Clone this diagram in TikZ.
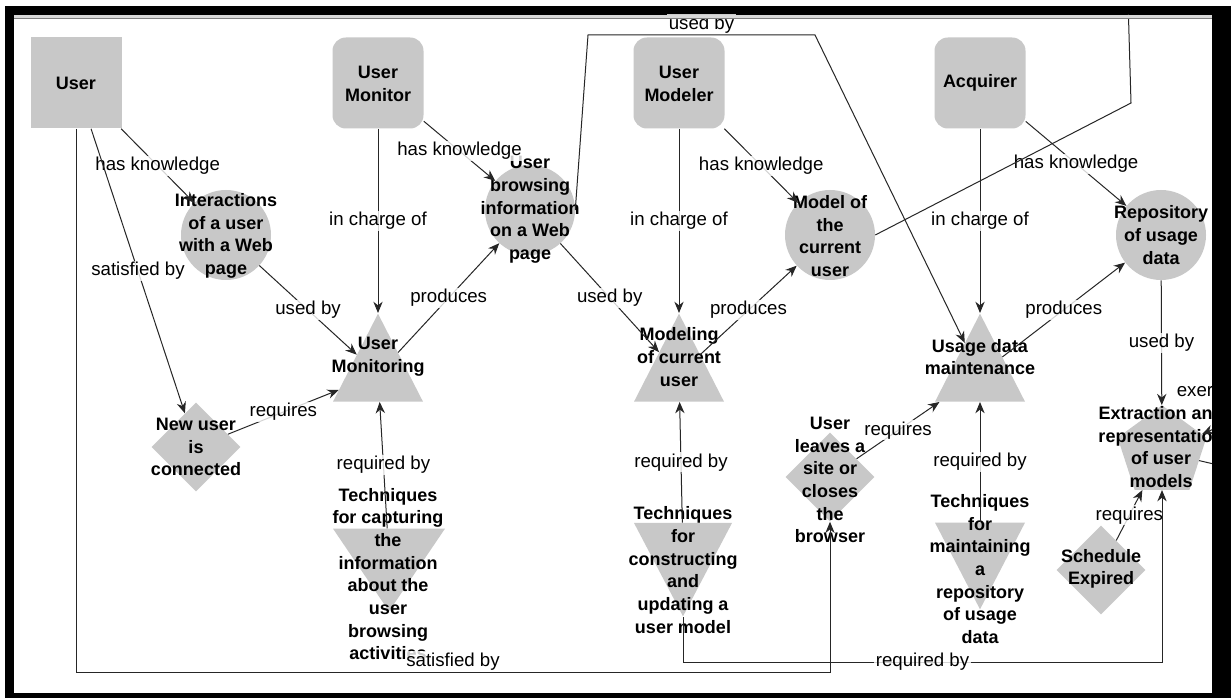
\documentclass[tikz,border=0pt]{standalone}
\usepackage{fontspec}
\setmainfont{Liberation Sans}
\usetikzlibrary{arrows.meta,shapes.geometric}
\definecolor{conceptgray}{RGB}{200,200,200}

\begin{document}
\begin{tikzpicture}[x=0.75pt,y=-0.75pt,>={Stealth[length=8.5pt,width=7pt]},
  actor/.style={fill=conceptgray,minimum width=68.25pt,minimum height=68.25pt,inner sep=0pt},
  ractor/.style={actor,rounded corners=10pt},
  concept/.style={circle,fill=conceptgray,minimum size=67.5pt,inner sep=0pt},
  task/.style={isosceles triangle,isosceles triangle stretches,shape border rotate=90,
    fill=conceptgray,minimum width=67.5pt,minimum height=66pt,inner sep=0pt,anchor=apex},
  technique/.style={task,shape border rotate=270},
  event/.style={diamond,aspect=1,fill=conceptgray,minimum width=66.75pt,minimum height=66.75pt,inner sep=0pt},
  goal/.style={regular polygon,regular polygon sides=5,fill=conceptgray,minimum size=70pt,inner sep=0pt},
  txt/.style={font=\bfseries\fontsize{13.5}{17}\selectfont,align=center,inner sep=0pt},
  elab/.style={font=\fontsize{14}{16}\selectfont,fill=white,fill opacity=0.8,text opacity=1,inner sep=1pt},
  link/.style={draw=black!85,line width=0.75pt,->},
  wire/.style={draw=black!85,line width=0.75pt}]

\useasboundingbox (0,0) rectangle (1231,698);
\fill[white] (0,0) rectangle (1231,698);
\fill[black] (5,6) rectangle (1231,698);
\fill[white] (14,15) rectangle (1212,693);

\begin{scope}
\clip (14,15) rectangle (1212,693);

% actors
\node[actor] (user) at (76,83) {};
\node[ractor] (umonitor) at (378,83) {};
\node[ractor] (umodeler) at (679,83) {};
\node[ractor] (acquirer) at (980,83) {};

% knowledge
\node[concept] (inter) at (226,235) {};
\node[concept] (browse) at (530,210) {};
\node[concept] (model) at (830,235) {};
\node[concept] (repo) at (1161,235) {};

% tasks
\node[task] (monitoring) at (378,313) {};
\node[task] (modeling) at (679,313) {};
\node[task] (usage) at (980,313) {};

% techniques
\node[technique,minimum width=84pt,minimum height=62pt] (captech) at (389,612) {};
\node[technique,minimum width=73.5pt,minimum height=70pt] (constech) at (683,617) {};
\node[technique,minimum width=67.5pt,minimum height=65pt] (maintech) at (980,610) {};

% events
\node[event] (newuser) at (196,447) {};
\node[event] (leaves) at (830,477) {};
\node[event] (schedule) at (1101,570) {};

% goal
\node[goal] (extr) at (1162,452) {};

% texts
\node[txt] (user-t) at (76,83) {User};
\node[txt] (umonitor-t) at (378,84) {User\\Monitor};
\node[txt] (umodeler-t) at (679,84) {User\\Modeler};
\node[txt] (acquirer-t) at (980,83) {Acquirer};
\node[txt] (inter-t) at (226,236) {Interactions\\of a user\\with a Web\\page};
\node[txt] (browse-t) at (530,210) {User\\browsing\\information\\on a Web\\page};
\node[txt] (model-t) at (830,236) {Model of\\the\\current\\user};
\node[txt] (repo-t) at (1161,235) {Repository\\of usage\\data};
\node[txt] (monitoring-t) at (378,357) {User\\Monitoring};
\node[txt] (modeling-t) at (679,357) {Modeling\\of current\\user};
\node[txt] (usage-t) at (980,357) {Usage data\\maintenance};
\node[txt] (captech-t) at (388,574) {Techniques\\for capturing\\the\\information\\about the\\user\\browsing\\activities};
\node[txt] (constech-t) at (683,570) {Techniques\\for\\constructing\\and\\updating a\\user model};
\node[txt] (maintech-t) at (980,569) {Techniques\\for\\maintaining\\a\\repository\\of usage\\data};
\node[txt] (newuser-t) at (196,447) {New user\\is\\connected};
\node[txt] (leaves-t) at (830,480) {User\\leaves a\\site or\\closes\\the\\browser};
\node[txt] (schedule-t) at (1101,569) {Schedule\\Expired};
\node[txt] (extr-t) at (1161,447) {Extraction and\\representation\\of user\\models};

% bends
\coordinate (satbot) at (0,672);
\coordinate (reqbot) at (0,662);
\coordinate (topl) at (588,35);
\coordinate (topr) at (815,35);
\coordinate (mbend) at (1131,103);
\coordinate (mtop) at (1128,0);
\coordinate (offa) at (1290,395);
\coordinate (offb) at (1300,484);

% relations
\draw[link] (user) -- node[elab]{has knowledge} (inter);
\draw[link] (user) -- node[elab]{satisfied by} (newuser);
\draw[link] (umonitor.south) -- node[elab]{in charge of} (monitoring.apex);
\draw[link] (umonitor) -- node[elab]{has knowledge} (browse);
\draw[link] (inter) -- node[elab]{used by} (monitoring);
\draw[link] (monitoring) -- node[elab]{produces} (browse);
\draw[link] (newuser) -- node[elab]{requires} (monitoring);
\draw[link] (captech) -- node[elab]{required by} (monitoring);
\draw[link] (umodeler.south) -- node[elab]{in charge of} (modeling.apex);
\draw[link] (umodeler) -- node[elab]{has knowledge} (model);
\draw[link] (browse) -- node[elab]{used by} (modeling);
\draw[link] (modeling) -- node[elab]{produces} (model);
\draw[link] (constech) -- node[elab]{required by} (modeling);
\draw[link] (acquirer.south) -- node[elab]{in charge of} (usage.apex);
\draw[link] (acquirer) -- node[elab]{has knowledge} (repo);
\draw[link] (usage) -- node[elab]{produces} (repo);
\draw[link] (leaves) -- node[elab]{requires} (usage);
\draw[link] (maintech) -- node[elab]{required by} (usage);
\draw[link] (repo) -- node[elab]{used by} (extr);
\draw[link] (schedule) -- node[elab]{requires} (extr);
\draw[link] (browse.east) -- (topl) -- node[elab,anchor=south]{used by} (topr) -- (usage);
\draw[wire] (model.east) -- (mbend) -- (mtop);
\draw[link] (offa) -- (extr) node[elab,anchor=west,fill=none] at (1175,392) {exer};
\draw[wire] (extr) -- (offb);
\draw[link] (user.south) -- (user.south |- satbot) -| node[elab,pos=0.25,anchor=south]{satisfied by} (leaves.south);
\draw[link] (constech.apex) -- (constech.apex |- reqbot) -| node[elab,pos=0.25]{required by} (extr.south);
\end{scope}

\fill[black!15] (14,15) rectangle (1212,18.5);
\draw[black!50,line width=0.75pt] (14,19) -- (1212,19);
\end{tikzpicture}
\end{document}
